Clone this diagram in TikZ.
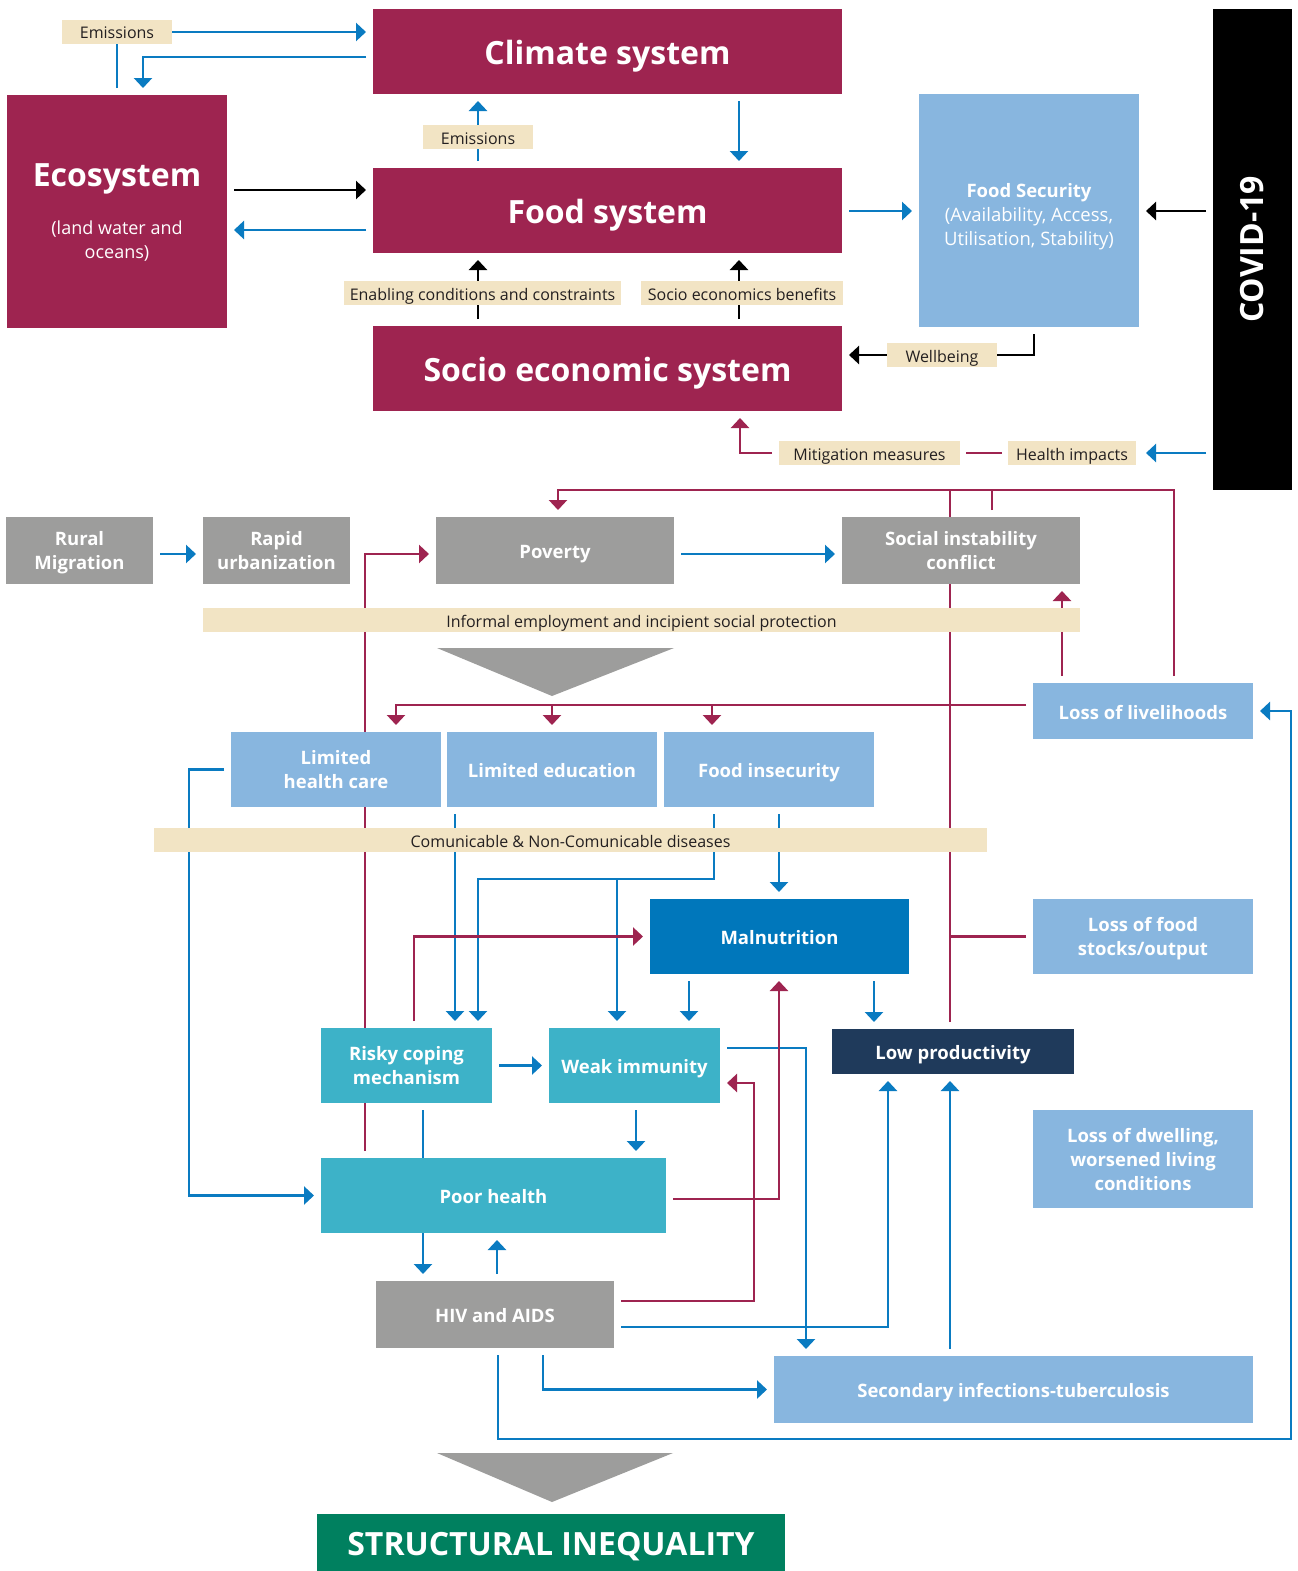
\documentclass[tikz,border=0pt]{standalone}
\usepackage{fontspec}
\setmainfont{Open Sans}
\usetikzlibrary{arrows.meta}
\pgfdeclarelayer{bg}
\pgfsetlayers{bg,main}

\definecolor{wine}{HTML}{9E2450}
\definecolor{sky}{HTML}{88B6DF}
\definecolor{stone}{HTML}{9D9D9C}
\definecolor{teal}{HTML}{3DB2C8}
\definecolor{deepblue}{HTML}{0077BB}
\definecolor{navy}{HTML}{1F3A5B}
\definecolor{pine}{HTML}{00805F}
\definecolor{sand}{HTML}{F2E4C4}
\definecolor{lineblue}{HTML}{0A7BC1}
\definecolor{ink}{HTML}{231F20}

\newcommand{\regtext}{\mdseries\fontsize{18}{24}\selectfont}

\begin{document}
\begin{tikzpicture}[x=1pt,y=-1pt,
    sz/.style 2 args={minimum width=#1,minimum height=#2},
    box/.style={rectangle,inner sep=2pt,outer sep=7pt,align=center,text=white,
        font=\bfseries\fontsize{18.5}{24}\selectfont},
    one/.style={text height=16pt,text depth=0pt},
    bigbox/.style={box,text height=26.5pt,text depth=0pt,
        font=\bfseries\fontsize{32}{38}\selectfont},
    tag/.style={rectangle,fill=sand,inner sep=0pt,outer sep=0pt,text=ink,
        text height=14pt,text depth=0pt,font=\fontsize{16}{19}\selectfont},
    bl/.style={draw=lineblue,line width=2.5pt},
    barr/.style={bl,-{Triangle[width=18pt,length=10pt]}},
    ml/.style={draw=wine,line width=2.5pt},
    marr/.style={ml,-{Triangle[width=18pt,length=10pt]}},
    kl/.style={draw=black,line width=2.5pt},
    karr/.style={kl,-{Triangle[width=18pt,length=10pt]}}]

\useasboundingbox (0,0) rectangle (1298,1571);

% upper systems
\node[tag,sz={110}{24}] (emis1) at (117,32) {Emissions};
\node[bigbox,fill=wine,sz={469}{85}] (climate) at (607.5,51.5) {Climate system};
\node[box,fill=wine,sz={220}{233},text depth=0pt] (eco) at (117,211.5)
    {\fontsize{32}{38}\selectfont Ecosystem\\[24pt]\regtext (land water and\\\regtext oceans)};
\node[tag,sz={110}{24}] (emis2) at (478,137) {Emissions};
\node[bigbox,fill=wine,sz={469}{85}] (food) at (607.5,210.5) {Food system};
\node[tag,sz={277}{24}] (enab) at (482.5,293) {Enabling conditions and constraints};
\node[tag,sz={202}{24}] (bene) at (742,293) {Socio economics benefits};
\node[bigbox,fill=wine,sz={469}{85}] (socio) at (607.5,368.5) {Socio economic system};
\node[box,fill=sky,sz={220}{233}] (fsec) at (1029,210.5) {};
\node[align=center,text=white,font=\bfseries\fontsize{18.5}{24}\selectfont] (fsectxt) at (1029,217)
    {Food Security\\\mdseries (Availability, Access,\\\mdseries Utilisation, Stability)};
\node[box,fill=black,sz={79}{481}] (covid) at (1252.5,249.5) {};
\node[rotate=90,text=white,font=\bfseries\fontsize{32}{38}\selectfont] (covidtxt) at (covid) {COVID-19};
\node[tag,sz={110}{24}] (well) at (942,355) {Wellbeing};
\node[tag,sz={181}{24}] (mitig) at (869.5,453) {Mitigation measures};
\node[tag,sz={128}{24}] (health) at (1072,453) {Health impacts};

% lower chain
\node[box,fill=stone,sz={147}{67},text depth=0pt] (rural) at (79.5,550.5) {Rural\\Migration};
\node[box,fill=stone,sz={147}{67}] (rapid) at (276.5,550.5) {Rapid\\urbanization};
\node[box,fill=stone,sz={238}{67},one] (pov) at (555,550.5) {Poverty};
\node[box,fill=stone,sz={238}{67}] (soc) at (961,550.5) {Social instability\\conflict};
\node[tag,sz={877}{24}] (inform) at (641.5,620) {Informal employment and incipient social protection};
\node[box,fill=sky,sz={220}{56},one] (livel) at (1143,711) {Loss of livelihoods};
\node[box,fill=sky,sz={210}{75}] (lhc) at (336,769.5) {Limited\\health care};
\node[box,fill=sky,sz={210}{75},one] (ledu) at (552,769.5) {Limited education};
\node[box,fill=sky,sz={210}{75},one] (finsec) at (769,769.5) {Food insecurity};
\node[tag,sz={833}{24}] (comm) at (570.5,840) {Comunicable \& Non-Comunicable diseases};
\node[box,fill=deepblue,sz={259}{75},one] (maln) at (779.5,936.5) {Malnutrition};
\node[box,fill=sky,sz={220}{75},text depth=0pt] (stocks) at (1143,936.5) {Loss of food\\stocks/output};
\node[box,fill=teal,sz={171}{75}] (risky) at (406.5,1065.5) {Risky coping\\mechanism};
\node[box,fill=teal,sz={171}{75},one] (weak) at (634.5,1065.5) {Weak immunity};
\node[box,fill=navy,sz={242}{45},one] (lowp) at (953,1051.5) {Low productivity};
\node[box,fill=sky,sz={220}{98}] (dwell) at (1143,1159) {Loss of dwelling,\\worsened living\\conditions};
\node[box,fill=teal,sz={345}{75},one] (poor) at (493.5,1195.5) {Poor health};
\node[box,fill=stone,sz={238}{67},one] (hiv) at (495,1314.5) {HIV and AIDS};
\node[box,fill=sky,sz={479}{67},one] (sec) at (1013.5,1389.5) {Secondary infections-tuberculosis};
\node[bigbox,fill=pine,sz={468}{57}] (ineq) at (551,1542.5) {STRUCTURAL INEQUALITY};

\fill[stone] (437,648) -- (674,648) -- (552,696) -- cycle;
\fill[stone] (437,1453) -- (673,1453) -- (552,1502) -- cycle;

\coordinate (busP) at (558,490);
\coordinate (busL) at (396,705);
\coordinate (busF) at (714,879);
\coordinate (corner) at (1291,1439);

\begin{pgfonlayer}{bg}
% upper links
\draw[bl] (eco.north -| 117,0) -- (emis1.south);
\draw[barr] (emis1.east) -- (emis1 -| climate.west);
\draw[barr] (climate.west |- 0,57) -| (eco.north -| 143,0);
\draw[karr] (eco.east |- 0,190) -- (food.west |- 0,190);
\draw[barr] (food.west |- 0,230) -- (eco.east |- 0,230);
\draw[barr] (food.north -| 478,0) -- (climate.south -| 478,0);
\draw[barr] (climate.south -| 739,0) -- (food.north -| 739,0);
\draw[karr] (socio.north -| 478,0) -- (food.south -| 478,0);
\draw[karr] (socio.north -| 739,0) -- (food.south -| 739,0);
\draw[barr] (food.east |- 0,211) -- (fsec.west |- 0,211);
\draw[karr] (covid.west |- 0,211) -- (fsec.east |- 0,211);
\draw[karr] (fsec.south -| 1034,0) |- (socio.east |- 0,355);
\draw[barr,shorten >=10pt] (covid.west |- health) -- (health.east);
\draw[ml,shorten <=6pt,shorten >=6pt] (health.west) -- (mitig.east);
\draw[marr,shorten <=7pt] (mitig.west) -| (socio.south -| 740,0);

% lower links
\draw[barr] (rural.east |- 0,554) -- (rapid.west |- 0,554);
\draw[barr] (pov.east |- 0,554) -- (soc.west |- 0,554);
\draw[marr] (poor.north -| 365,0) |- (pov.west |- 0,554);
\draw[marr] (lowp.north -| 950,0) |- (busP) -- (busP |- pov.north);
\draw[ml] (soc.north -| 992,0) -- (busP -| 992,0);
\draw[ml] (livel.north -| 1174,0) |- (busP);
\draw[marr] (livel.north -| 1062,0) -- (soc.south -| 1062,0);
\draw[ml] (stocks.west) -- (stocks.west -| 950,0);
\draw[marr] (livel.west |- busL) -| (lhc.north -| busL);
\draw[marr] (busL -| ledu.north) -- (ledu.north);
\draw[marr] (busL -| 712,0) -- (finsec.north -| 712,0);
\draw[barr] (lhc.west) -| (poor.west -| 189,0) -- (poor.west);
\draw[barr] (ledu.south -| 455,0) -- (risky.north -| 455,0);
\draw[barr] (finsec.south -| busF) |- (busF -| 478,0) -- (risky.north -| 478,0);
\draw[barr] (busF -| 617,0) -- (weak.north -| 617,0);
\draw[barr] (finsec.south -| 779,0) -- (maln.north -| 779,0);
\draw[marr] (risky.north -| 414,0) |- (maln.west);
\draw[barr] (maln.south -| 689,0) -- (weak.north -| 689,0);
\draw[barr] (maln.south -| 874,0) -- (lowp.north -| 874,0);
\draw[barr] (risky.east) -- (weak.west);
\draw[barr] (weak.east |- 0,1048) -| (sec.north -| 806,0);
\draw[marr] (hiv.east |- 0,1301) -| ([xshift=27pt]weak.east |- 0,1083) -- (weak.east |- 0,1083);
\draw[marr] (poor.east |- 0,1199) -| (maln.south -| 779,0);
\draw[barr] (weak.south -| 636,0) -- (poor.north -| 636,0);
\draw[barr] (risky.south -| 423,0) -- (hiv.north -| 423,0);
\draw[barr] (hiv.north -| 497,0) -- (poor.south -| 497,0);
\draw[barr] (hiv.east |- 0,1327) -| (lowp.south -| 888,0);
\draw[barr] (sec.north -| 950,0) -- (lowp.south -| 950,0);
\draw[barr] (hiv.south -| 543,0) |- (sec.west);
\draw[barr] (hiv.south -| 498,0) |- (corner) |- (livel.east);
\end{pgfonlayer}

\end{tikzpicture}
\end{document}
